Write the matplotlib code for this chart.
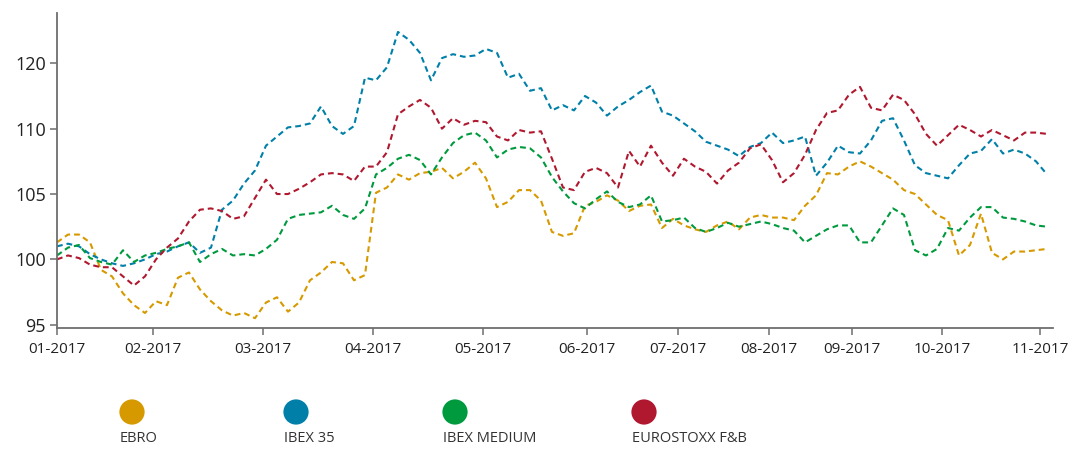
import numpy as np
import matplotlib
matplotlib.use("Agg")
import matplotlib.pyplot as plt

plt.rcParams['font.family'] = ['Open Sans', 'DejaVu Sans']

# Data (one point about every few trading days)
series_names = ['EBRO', 'IBEX 35', 'IBEX MEDIUM', 'EUROSTOXX F&B']
series_colors = ['#d69a00', '#0080a8', '#009a3e', '#b0182f']

ebro = [101.3, 101.9, 101.9, 101.3, 99.2, 98.7, 97.4, 96.5, 95.9, 96.8,
        96.5, 98.6, 99.0, 97.7, 96.8, 96.1, 95.7, 95.9, 95.5, 96.7,
        97.1, 96.0, 96.7, 98.4, 99.0, 99.8, 99.7, 98.4, 98.8, 105.1,
        105.5, 106.5, 106.1, 106.6, 106.7, 107.0, 106.2, 106.7, 107.4, 106.2,
        104.0, 104.4, 105.3, 105.3, 104.5, 102.1, 101.8, 102.0, 104.1, 104.4,
        104.9, 104.5, 103.7, 104.1, 104.2, 102.4, 103.1, 102.6, 102.3, 102.1,
        102.6, 102.9, 102.3, 103.2, 103.4, 103.2, 103.2, 103.0, 104.1, 104.9,
        106.6, 106.5, 107.1, 107.5, 107.1, 106.6, 106.1, 105.3, 105.0, 104.2,
        103.4, 103.0, 100.3, 101.1, 103.5, 100.5, 100.0, 100.6, 100.6, 100.7,
        100.8]

ibex35 = [101.0, 101.2, 101.0, 100.4, 100.0, 99.7, 99.5, 99.7, 100.0, 100.4,
          100.6, 101.0, 101.3, 100.5, 100.9, 103.8, 104.5, 105.8, 106.8, 108.7,
          109.4, 110.1, 110.2, 110.4, 111.7, 110.2, 109.6, 110.2, 113.9, 113.7,
          114.7, 117.4, 116.8, 115.8, 113.7, 115.4, 115.7, 115.5, 115.6, 116.1,
          115.8, 113.9, 114.2, 112.9, 113.1, 111.4, 111.8, 111.4, 112.5, 112.0,
          111.0, 111.7, 112.2, 112.8, 113.3, 111.3, 111.0, 110.4, 109.8, 109.0,
          108.7, 108.4, 107.9, 108.6, 108.9, 109.7, 108.9, 109.1, 109.4, 106.4,
          107.4, 108.7, 108.2, 108.1, 109.1, 110.6, 110.8, 109.1, 107.2, 106.6,
          106.4, 106.2, 107.2, 108.1, 108.3, 109.2, 108.1, 108.4, 108.1, 107.5,
          106.5]

ibex_medium = [100.3, 100.9, 101.1, 100.1, 99.8, 99.6, 100.7, 99.8, 100.3, 100.5,
               100.8, 101.0, 101.3, 99.8, 100.4, 100.8, 100.3, 100.4, 100.3, 100.8,
               101.5, 103.1, 103.4, 103.5, 103.6, 104.1, 103.4, 103.1, 103.9, 106.5,
               107.0, 107.7, 108.0, 107.6, 106.5, 107.8, 108.9, 109.5, 109.7, 109.1,
               107.8, 108.4, 108.6, 108.5, 107.8, 106.3, 105.2, 104.3, 103.9, 104.6,
               105.2, 104.4, 104.0, 104.2, 104.9, 102.9, 103.0, 103.2, 102.4, 102.1,
               102.4, 102.8, 102.5, 102.7, 102.9, 102.7, 102.4, 102.2, 101.3, 101.8,
               102.3, 102.6, 102.6, 101.3, 101.3, 102.6, 103.9, 103.4, 100.7, 100.3,
               100.8, 102.4, 102.2, 103.2, 104.0, 104.0, 103.2, 103.1, 102.9, 102.6,
               102.5]

eurostoxx = [100.0, 100.3, 100.1, 99.6, 99.4, 99.4, 98.7, 98.0, 98.7, 100.0,
             100.9, 101.6, 102.9, 103.8, 103.9, 103.7, 103.1, 103.3, 104.7, 106.1,
             105.0, 105.0, 105.4, 105.9, 106.5, 106.6, 106.5, 106.0, 107.1, 107.1,
             108.2, 111.1, 111.7, 112.2, 111.6, 110.0, 110.8, 110.3, 110.6, 110.5,
             109.4, 109.1, 109.9, 109.7, 109.8, 107.7, 105.5, 105.3, 106.7, 107.0,
             106.6, 105.5, 108.3, 107.1, 108.7, 107.4, 106.4, 107.7, 107.1, 106.7,
             105.8, 106.8, 107.4, 108.5, 108.8, 107.6, 105.9, 106.6, 108.0, 109.9,
             111.2, 111.4, 112.6, 113.2, 111.6, 111.4, 112.6, 112.2, 111.1, 109.6,
             108.7, 109.5, 110.3, 109.9, 109.4, 109.9, 109.5, 109.1, 109.7, 109.7,
             109.6]

month_labels = ['01-2017', '02-2017', '03-2017', '04-2017', '05-2017', '06-2017',
                '07-2017', '08-2017', '09-2017', '10-2017', '11-2017']
month_pos = [0, 8.73, 18.73, 28.7, 38.7, 48.15, 56.45, 64.7, 72.3, 80.5, 89.4]

# the original axis labels its top tick "120" although it sits one step above 110
y_ticks = [95, 100, 105, 110, 115]
y_labels = ['95', '100', '105', '110', '120']

all_series = [ebro, ibex35, ibex_medium, eurostoxx]

fig = plt.figure(figsize=(10.73, 4.5), dpi=100)
ax = fig.add_axes([0.0531, 0.2711, 0.9283, 0.70])

for vals, col in zip(all_series, series_colors):
    x = np.arange(len(vals))
    ax.plot(x, vals, color=col, lw=1.5, linestyle=(0, (2.8, 1.9)))

ax.set_xlim(0, 90.55)
ax.set_ylim(94.75, 118.85)
ax.set_xticks(month_pos)
ax.set_xticklabels(month_labels, fontsize=11, color='#222222')
ax.set_yticks(y_ticks)
ax.set_yticklabels(y_labels, fontsize=13, color='#222222')

for s in ['top', 'right']:
    ax.spines[s].set_visible(False)
for s in ['left', 'bottom']:
    ax.spines[s].set_color('#6e6e6e')
    ax.spines[s].set_linewidth(1.3)
ax.tick_params(axis='both', colors='#6e6e6e', length=5, width=1.1, labelcolor='#222222')
ax.tick_params(axis='x', pad=5)
ax.tick_params(axis='y', pad=3)

# legend: coloured dot with the name underneath
lg = fig.add_axes([0, 0, 1, 1], zorder=-1)
lg.set_xlim(0, 1073)
lg.set_ylim(450, 0)
lg.axis('off')
legend_x = [120, 284, 443, 632]
for name, col, lx in zip(series_names, series_colors, legend_x):
    lg.scatter([lx + 12], [412], s=330, color=col, edgecolors='none')
    lg.text(lx, 439, name, fontsize=10.5, color='#333333', va='center', ha='left')

plt.savefig('out.png', dpi=100)
